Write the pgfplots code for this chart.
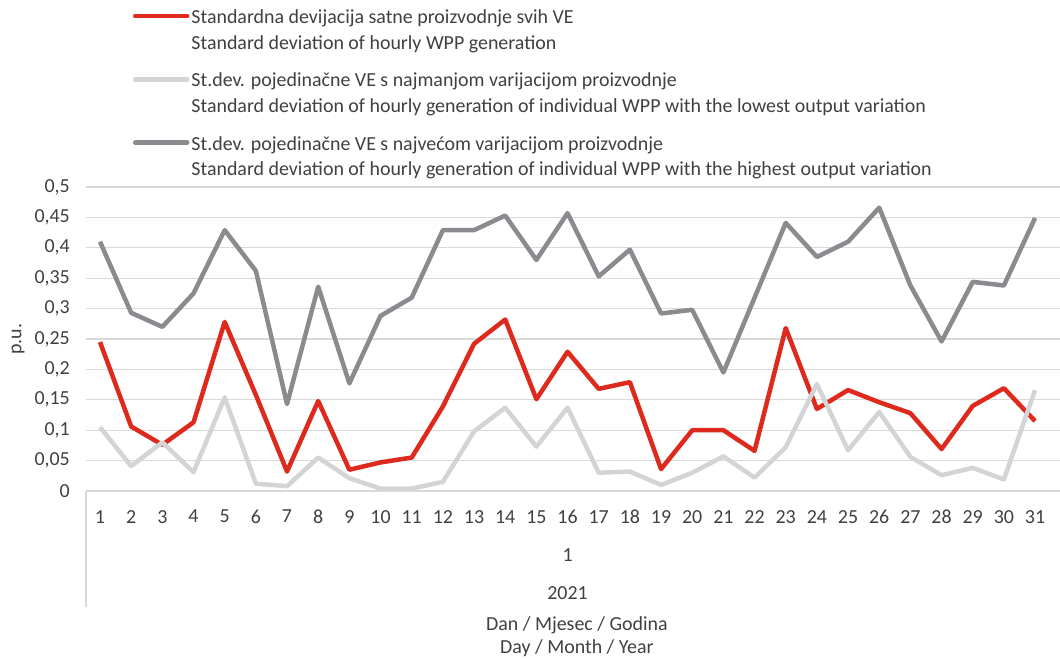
\documentclass[border=0pt]{standalone}
\usepackage{fontspec}
\setmainfont{Carlito}
\usepackage{pgfplots}
\pgfplotsset{compat=1.18}
\definecolor{redS}{RGB}{222,41,29}
\definecolor{darkS}{RGB}{137,139,142}
\definecolor{lightS}{RGB}{210,212,213}
\definecolor{gridc}{RGB}{217,217,217}
\definecolor{textc}{RGB}{64,64,64}

% day, value
\pgfplotstableread{
d v
1 0.245
2 0.106
3 0.076
4 0.113
5 0.278
6 0.158
7 0.032
8 0.148
9 0.035
10 0.047
11 0.055
12 0.139
13 0.242
14 0.282
15 0.151
16 0.229
17 0.168
18 0.179
19 0.036
20 0.100
21 0.100
22 0.066
23 0.268
24 0.135
25 0.166
26 0.146
27 0.128
28 0.069
29 0.140
30 0.169
31 0.115
}\allwpp

\pgfplotstableread{
d v
1 0.105
2 0.041
3 0.080
4 0.031
5 0.154
6 0.012
7 0.008
8 0.055
9 0.021
10 0.004
11 0.004
12 0.015
13 0.098
14 0.137
15 0.073
16 0.137
17 0.030
18 0.032
19 0.010
20 0.030
21 0.057
22 0.022
23 0.072
24 0.176
25 0.067
26 0.130
27 0.056
28 0.026
29 0.038
30 0.019
31 0.166
}\lowwpp

\pgfplotstableread{
d v
1 0.410
2 0.293
3 0.270
4 0.325
5 0.429
6 0.362
7 0.143
8 0.336
9 0.177
10 0.288
11 0.318
12 0.429
13 0.429
14 0.453
15 0.380
16 0.457
17 0.353
18 0.397
19 0.292
20 0.298
21 0.195
22 0.318
23 0.441
24 0.385
25 0.410
26 0.466
27 0.338
28 0.246
29 0.344
30 0.338
31 0.449
}\highwpp

\begin{document}
\begin{tikzpicture}[x=1bp,y=1bp]
\path[use as bounding box] (-86,-168) rectangle (974,491);
\begin{axis}[
  at={(0,0)}, anchor=south west,
  scale only axis, width=974bp, height=304bp,
  xmin=0.55, xmax=31.8, ymin=0, ymax=0.5,
  axis x line*=bottom, axis y line*=left,
  x axis line style={draw=gridc, line width=1.3bp, -},
  y axis line style={draw=none},
  xtick={1,...,31},
  ytick={0,0.05,0.1,0.15,0.2,0.25,0.3,0.35,0.4,0.45,0.5},
  major tick length=0pt,
  ymajorgrids, grid style={draw=gridc, line width=1.3bp},
  tick label style={font=\fontsize{20}{24}\selectfont, text=textc},
  /pgf/number format/assume math mode=true,
  yticklabel style={anchor=east, inner sep=0pt, xshift=-16bp,
    /pgf/number format/.cd, use comma, fixed, assume math mode=true},
  xticklabel style={anchor=north, inner sep=0pt, yshift=-19bp},
  ylabel={p.u.},
  ylabel style={at={(axis description cs:-0.0698,0.5)}, anchor=center,
    font=\fontsize{20}{24}\selectfont, text=textc},
  legend style={at={(axis description cs:0.048,1.59)}, anchor=north west,
    draw=none, fill=none, font=\fontsize{20}{25.5}\selectfont, text=textc,
    cells={align=left, anchor=west}, row sep=18.5bp, inner sep=0pt},
  legend image code/.code={\draw[#1, line width=4.5bp, line cap=round]
    (0bp,14bp) -- (52bp,14bp);},
  every axis plot/.append style={line width=4.5bp, line join=round, no marks},
  clip=false,
]
\addplot[redS] table[x=d, y=v] {\allwpp};
\addlegendentry{Standardna devijacija satne proizvodnje svih VE\\Standard deviation of hourly WPP generation}
\addplot[lightS] table[x=d, y=v] {\lowwpp};
\addlegendentry{St.dev. pojedinačne VE s najmanjom varijacijom proizvodnje\\Standard deviation of hourly generation of individual WPP with the lowest output variation}
\addplot[darkS] table[x=d, y=v] {\highwpp};
\addlegendentry{St.dev. pojedinačne VE s najvećom varijacijom proizvodnje\\Standard deviation of hourly generation of individual WPP with the highest output variation}

\draw[gridc, line width=1.3bp] (rel axis cs:0,0) -- ([yshift=-116bp]rel axis cs:0,0);
\node[font=\fontsize{20}{24}\selectfont, text=textc] at (axis cs:16,0) [yshift=-64bp] {1};
\node[font=\fontsize{20}{24}\selectfont, text=textc] at (axis cs:16,0) [yshift=-102bp] {2021};
\node[font=\fontsize{20}{23}\selectfont, text=textc, align=center]
  at (rel axis cs:0.504,0) [yshift=-145.5bp] {Dan / Mjesec / Godina\\Day / Month / Year};
\end{axis}
\end{tikzpicture}
\end{document}
